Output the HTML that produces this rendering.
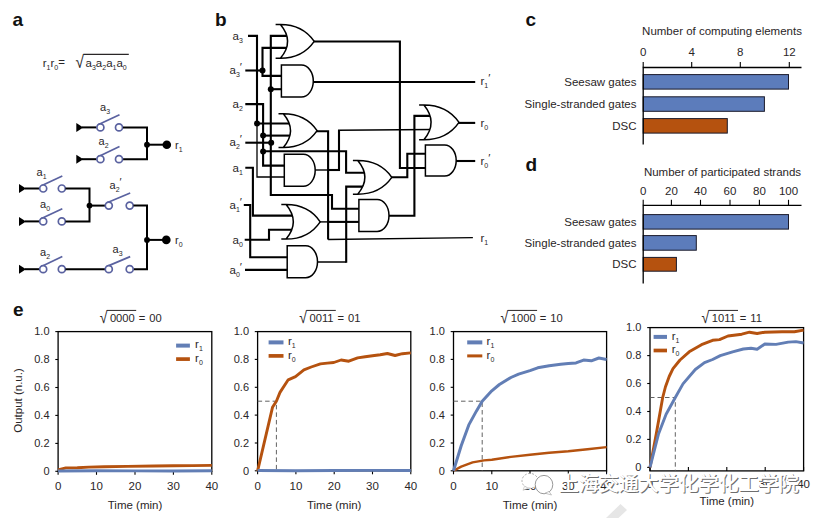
<!DOCTYPE html>
<html><head><meta charset="utf-8"><title>Figure</title>
<style>
html,body{margin:0;padding:0;background:#fff;}
body{width:826px;height:518px;overflow:hidden;}
svg{display:block;opacity:0.999;font-family:"Liberation Sans","Noto Sans CJK SC",sans-serif;}
</style></head><body>
<svg width="826" height="518" viewBox="0 0 826 518">
<rect width="826" height="518" fill="#fff"/>
<text x="12.5" y="26" font-size="19" font-weight="bold" fill="#111">a</text>
<text x="215" y="25.5" font-size="19" font-weight="bold" fill="#111">b</text>
<text x="525.5" y="26" font-size="19" font-weight="bold" fill="#111">c</text>
<text x="525.5" y="170.5" font-size="19" font-weight="bold" fill="#111">d</text>
<text x="13" y="315.5" font-size="19" font-weight="bold" fill="#111">e</text>
<g id="pa">
<text x="42.7" y="66.7" font-size="11.5" fill="#2a2627">r<tspan dy="3" font-size="7">1</tspan><tspan dy="-3" font-size="11.5">r</tspan><tspan dy="3" font-size="7">0</tspan><tspan dy="-4.0" font-size="11.5">=</tspan></text>
<text transform="translate(75.41,67.7) scale(0.88,1)" font-size="17.5" fill="#2a2627">√</text>
<line x1="83.35" y1="54.31" x2="128.8" y2="54.31" stroke="#2a2627" stroke-width="1.2"/>
<text x="85.5" y="66.7" font-size="11.5" fill="#2a2627">a<tspan dy="3" font-size="7">3</tspan><tspan dy="-3" font-size="11.5">a</tspan><tspan dy="3" font-size="7">2</tspan><tspan dy="-3" font-size="11.5">a</tspan><tspan dy="3" font-size="7">1</tspan><tspan dy="-3" font-size="11.5">a</tspan><tspan dy="3" font-size="7">0</tspan></text>
<polygon points="76.3,122.9 83.3,127.4 76.3,131.9" fill="#000"/>
<path d="M82,127.4 H96.5" fill="none" stroke="#000" stroke-width="2.0" stroke-linejoin="miter"/>
<line x1="98.60000000000001" y1="124.60000000000001" x2="119.5" y2="114.80000000000001" stroke="#5a62a0" stroke-width="1.7"/>
<circle cx="100.4" cy="127.4" r="3.5" fill="#fff" stroke="#5a62a0" stroke-width="1.7"/>
<circle cx="119.0" cy="127.4" r="3.5" fill="#fff" stroke="#5a62a0" stroke-width="1.7"/>
<text x="100" y="111" font-size="11" fill="#2a2627">a<tspan dy="3" font-size="7">3</tspan></text>
<path d="M123,127.4 H147 V159.2 H123" fill="none" stroke="#000" stroke-width="2.0" stroke-linejoin="miter"/>
<polygon points="76.3,154.7 83.3,159.2 76.3,163.7" fill="#000"/>
<path d="M82,159.2 H96.5" fill="none" stroke="#000" stroke-width="2.0" stroke-linejoin="miter"/>
<line x1="98.60000000000001" y1="156.39999999999998" x2="119.5" y2="146.6" stroke="#5a62a0" stroke-width="1.7"/>
<circle cx="100.4" cy="159.2" r="3.5" fill="#fff" stroke="#5a62a0" stroke-width="1.7"/>
<circle cx="119.0" cy="159.2" r="3.5" fill="#fff" stroke="#5a62a0" stroke-width="1.7"/>
<text x="98.5" y="144.5" font-size="11" fill="#2a2627">a<tspan dy="3" font-size="7">2</tspan></text>
<path d="M147,144.7 H166" fill="none" stroke="#000" stroke-width="2.0" stroke-linejoin="miter"/>
<circle cx="147" cy="144.7" r="2.9" fill="#000"/>
<circle cx="166.8" cy="144.7" r="4.3" fill="#000"/>
<text x="175" y="149" font-size="11" fill="#2a2627">r<tspan dy="3" font-size="7">1</tspan></text>
<polygon points="19,184.0 26,188.5 19,193.0" fill="#000"/>
<path d="M25,188.5 H39.5" fill="none" stroke="#000" stroke-width="2.0" stroke-linejoin="miter"/>
<line x1="41.400000000000006" y1="185.7" x2="62.300000000000004" y2="175.9" stroke="#5a62a0" stroke-width="1.7"/>
<circle cx="43.2" cy="188.5" r="3.5" fill="#fff" stroke="#5a62a0" stroke-width="1.7"/>
<circle cx="61.800000000000004" cy="188.5" r="3.5" fill="#fff" stroke="#5a62a0" stroke-width="1.7"/>
<text x="36.5" y="176" font-size="11" fill="#2a2627">a<tspan dy="3" font-size="7">1</tspan></text>
<polygon points="19,216.9 26,221.4 19,225.9" fill="#000"/>
<path d="M25,221.4 H39.5" fill="none" stroke="#000" stroke-width="2.0" stroke-linejoin="miter"/>
<line x1="41.400000000000006" y1="218.6" x2="62.300000000000004" y2="208.8" stroke="#5a62a0" stroke-width="1.7"/>
<circle cx="43.2" cy="221.4" r="3.5" fill="#fff" stroke="#5a62a0" stroke-width="1.7"/>
<circle cx="61.800000000000004" cy="221.4" r="3.5" fill="#fff" stroke="#5a62a0" stroke-width="1.7"/>
<text x="40" y="208" font-size="11" fill="#2a2627">a<tspan dy="3" font-size="7">0</tspan></text>
<path d="M65.5,188.5 H89.5 V221.4 H65.5" fill="none" stroke="#000" stroke-width="2.0" stroke-linejoin="miter"/>
<circle cx="89.5" cy="205.6" r="2.9" fill="#000"/>
<path d="M89.5,205.6 H105" fill="none" stroke="#000" stroke-width="2.0" stroke-linejoin="miter"/>
<line x1="107.0" y1="202.79999999999998" x2="130.2" y2="193.0" stroke="#5a62a0" stroke-width="1.7"/>
<circle cx="108.8" cy="205.6" r="3.5" fill="#fff" stroke="#5a62a0" stroke-width="1.7"/>
<circle cx="129.7" cy="205.6" r="3.5" fill="#fff" stroke="#5a62a0" stroke-width="1.7"/>
<text x="109.5" y="189" font-size="11" fill="#2a2627">a<tspan dy="3" font-size="7">2</tspan><tspan dy="-6" font-size="11">′</tspan></text>
<path d="M133.5,205.6 H147 V269.2 H133.5" fill="none" stroke="#000" stroke-width="2.0" stroke-linejoin="miter"/>
<polygon points="19,264.7 26,269.2 19,273.7" fill="#000"/>
<path d="M25,269.2 H39.5" fill="none" stroke="#000" stroke-width="2.0" stroke-linejoin="miter"/>
<line x1="41.400000000000006" y1="266.4" x2="62.300000000000004" y2="256.59999999999997" stroke="#5a62a0" stroke-width="1.7"/>
<circle cx="43.2" cy="269.2" r="3.5" fill="#fff" stroke="#5a62a0" stroke-width="1.7"/>
<circle cx="61.800000000000004" cy="269.2" r="3.5" fill="#fff" stroke="#5a62a0" stroke-width="1.7"/>
<text x="40" y="255.5" font-size="11" fill="#2a2627">a<tspan dy="3" font-size="7">2</tspan></text>
<path d="M65.5,269.2 H105" fill="none" stroke="#000" stroke-width="2.0" stroke-linejoin="miter"/>
<line x1="107.0" y1="266.4" x2="130.2" y2="256.59999999999997" stroke="#5a62a0" stroke-width="1.7"/>
<circle cx="108.8" cy="269.2" r="3.5" fill="#fff" stroke="#5a62a0" stroke-width="1.7"/>
<circle cx="129.7" cy="269.2" r="3.5" fill="#fff" stroke="#5a62a0" stroke-width="1.7"/>
<text x="112.5" y="253" font-size="11" fill="#2a2627">a<tspan dy="3" font-size="7">3</tspan></text>
<circle cx="147" cy="239.9" r="2.9" fill="#000"/>
<path d="M147,239.9 H166" fill="none" stroke="#000" stroke-width="2.0" stroke-linejoin="miter"/>
<circle cx="166.3" cy="239.9" r="4.3" fill="#000"/>
<text x="175" y="244" font-size="11" fill="#2a2627">r<tspan dy="3" font-size="7">0</tspan></text>
</g>
<g id="pb">
<path d="M248,35.9 H257 V123.5 H292" fill="none" stroke="#000" stroke-width="2.1" stroke-linejoin="miter"/>
<path d="M257,123.5 V177 H286" fill="none" stroke="#000" stroke-width="1.3" stroke-linejoin="miter"/>
<path d="M290,35.9 H270.8 V195 H332 V208.7 H360" fill="none" stroke="#000" stroke-width="2.1" stroke-linejoin="miter"/>
<path d="M270.8,89.2 H283" fill="none" stroke="#000" stroke-width="2.1" stroke-linejoin="miter"/>
<path d="M245.3,70.5 H262.5" fill="none" stroke="#000" stroke-width="2.1" stroke-linejoin="miter"/>
<path d="M290,47.9 H262.5 V75.9 H283" fill="none" stroke="#000" stroke-width="2.1" stroke-linejoin="miter"/>
<path d="M245.3,104.1 H263.1 V165.6 H286" fill="none" stroke="#000" stroke-width="2.1" stroke-linejoin="miter"/>
<path d="M263.1,135.6 H292" fill="none" stroke="#000" stroke-width="2.1" stroke-linejoin="miter"/>
<path d="M263.1,151.3 H346.1 V172.7 H366" fill="none" stroke="#000" stroke-width="2.1" stroke-linejoin="miter"/>
<path d="M245.3,142.7 H271.4" fill="none" stroke="#000" stroke-width="2.1" stroke-linejoin="miter"/>
<path d="M245.3,167.8 H252.9 V215.6 H295" fill="none" stroke="#000" stroke-width="2.1" stroke-linejoin="miter"/>
<path d="M243.8,205 H250.2 V257.2 H289" fill="none" stroke="#000" stroke-width="2.1" stroke-linejoin="miter"/>
<path d="M244.7,239.7 H269 V229.8 H293" fill="none" stroke="#000" stroke-width="2.1" stroke-linejoin="miter"/>
<path d="M245,269.9 H289" fill="none" stroke="#000" stroke-width="2.1" stroke-linejoin="miter"/>
<path d="M313,41.5 H399.9 V168 H427" fill="none" stroke="#000" stroke-width="2.1" stroke-linejoin="miter"/>
<path d="M312,82 H475.2" fill="none" stroke="#000" stroke-width="2.1" stroke-linejoin="miter"/>
<path d="M316,131.2 H328.1 V239.5" fill="none" stroke="#000" stroke-width="2.1" stroke-linejoin="miter"/>
<path d="M328.1,239.5 L472.9,237.6" fill="none" stroke="#000" stroke-width="1.4" stroke-linejoin="miter"/>
<path d="M314,170 H329" fill="none" stroke="#000" stroke-width="1.4" stroke-linejoin="miter"/>
<path d="M328.1,170 H340" fill="none" stroke="#000" stroke-width="2.1" stroke-linejoin="miter"/>
<path d="M339,171 V130.3" fill="none" stroke="#000" stroke-width="2.1" stroke-linejoin="miter"/>
<path d="M338,130.3 L432,129.5" fill="none" stroke="#000" stroke-width="1.6" stroke-linejoin="miter"/>
<path d="M319,221.9 H329" fill="none" stroke="#000" stroke-width="1.4" stroke-linejoin="miter"/>
<path d="M328.1,221.9 H360" fill="none" stroke="#000" stroke-width="2.1" stroke-linejoin="miter"/>
<path d="M316,262 H346.2" fill="none" stroke="#000" stroke-width="1.5" stroke-linejoin="miter"/>
<path d="M346.2,262.7 V186.6 H366" fill="none" stroke="#000" stroke-width="2.1" stroke-linejoin="miter"/>
<path d="M390,177.3 H407.3 V153.7 H427" fill="none" stroke="#000" stroke-width="2.1" stroke-linejoin="miter"/>
<path d="M388,215.7 H414.4 V115.9 H434" fill="none" stroke="#000" stroke-width="2.1" stroke-linejoin="miter"/>
<path d="M458,122.9 H475.2" fill="none" stroke="#000" stroke-width="2.1" stroke-linejoin="miter"/>
<path d="M455,161 H475.2" fill="none" stroke="#000" stroke-width="2.1" stroke-linejoin="miter"/>
<circle cx="262.5" cy="70.5" r="3.0" fill="#000"/>
<circle cx="270.8" cy="89.2" r="3.0" fill="#000"/>
<circle cx="257" cy="123.5" r="3.0" fill="#000"/>
<circle cx="263.1" cy="135.6" r="3.0" fill="#000"/>
<circle cx="271.2" cy="142.7" r="3.0" fill="#000"/>
<circle cx="263.1" cy="151.5" r="3.0" fill="#000"/>
<path d="M275.6,24.5 H280.40000000000003 C295.672,24.5 307.252,31.259999999999998 314.2,41.4 C307.252,51.54 295.672,58.3 280.40000000000003,58.3 H275.6 H280.40000000000003 Q294.8,41.4 280.40000000000003,24.5" fill="#fff" stroke="#000" stroke-width="1.5" stroke-linejoin="miter"/>
<path d="M281.4,65 H301.423 A11.876999999999997,16.049999999999997 0 0 1 301.423,97.1 H281.4 Z" fill="#fff" stroke="#000" stroke-width="1.5"/>
<path d="M278.5,113.8 H283.3 C298.572,113.8 310.15200000000004,120.56 317.1,130.7 C310.15200000000004,140.84 298.572,147.6 283.3,147.6 H278.5 H283.3 Q297.7,130.7 283.3,113.8" fill="#fff" stroke="#000" stroke-width="1.5" stroke-linejoin="miter"/>
<path d="M284.3,154.2 H303.323 A11.877000000000008,16.05000000000001 0 0 1 303.323,186.3 H284.3 Z" fill="#fff" stroke="#000" stroke-width="1.5"/>
<path d="M281.3,204.5 H286.1 C301.528,204.5 313.198,211.42 320.2,221.8 C313.198,232.18 301.528,239.1 286.1,239.1 H281.3 H286.1 Q300.5,221.8 286.1,204.5" fill="#fff" stroke="#000" stroke-width="1.5" stroke-linejoin="miter"/>
<path d="M287.2,245.8 H305.697 A11.802999999999992,15.949999999999989 0 0 1 305.697,277.7 H287.2 Z" fill="#fff" stroke="#000" stroke-width="1.5"/>
<path d="M352.9,160.6 H357.7 C373.128,160.6 384.798,167.32 391.8,177.39999999999998 C384.798,187.48 373.128,194.2 357.7,194.2 H352.9 H357.7 Q372.09999999999997,177.39999999999998 357.7,160.6" fill="#fff" stroke="#000" stroke-width="1.5" stroke-linejoin="miter"/>
<path d="M358.9,199.4 H377.16 A11.84,16.0 0 0 1 377.16,231.4 H358.9 Z" fill="#fff" stroke="#000" stroke-width="1.5"/>
<path d="M419.1,105 H423.90000000000003 C439.848,105 451.818,111.96000000000001 459,122.4 C451.818,132.84 439.848,139.8 423.90000000000003,139.8 H419.1 H423.90000000000003 Q438.3,122.4 423.90000000000003,105" fill="#fff" stroke="#000" stroke-width="1.5" stroke-linejoin="miter"/>
<path d="M425.4,144.9 H444.656 A11.543999999999995,15.599999999999994 0 0 1 444.656,176.1 H425.4 Z" fill="#fff" stroke="#000" stroke-width="1.5"/>
<text x="232.5" y="40" font-size="11.5" fill="#2a2627">a<tspan dy="3" font-size="7">3</tspan></text>
<text x="229.5" y="73.5" font-size="11.5" fill="#2a2627">a<tspan dy="3" font-size="7">3</tspan><tspan dy="-6" font-size="11.5">′</tspan></text>
<text x="232.5" y="108" font-size="11.5" fill="#2a2627">a<tspan dy="3" font-size="7">2</tspan></text>
<text x="229.5" y="146" font-size="11.5" fill="#2a2627">a<tspan dy="3" font-size="7">2</tspan><tspan dy="-6" font-size="11.5">′</tspan></text>
<text x="232.5" y="172" font-size="11.5" fill="#2a2627">a<tspan dy="3" font-size="7">1</tspan></text>
<text x="229.5" y="208.5" font-size="11.5" fill="#2a2627">a<tspan dy="3" font-size="7">1</tspan><tspan dy="-6" font-size="11.5">′</tspan></text>
<text x="232.5" y="243.5" font-size="11.5" fill="#2a2627">a<tspan dy="3" font-size="7">0</tspan></text>
<text x="229.5" y="273.5" font-size="11.5" fill="#2a2627">a<tspan dy="3" font-size="7">0</tspan><tspan dy="-6" font-size="11.5">′</tspan></text>
<text x="480.5" y="85" font-size="11.5" fill="#2a2627">r<tspan dy="3" font-size="7">1</tspan><tspan dy="-6" font-size="11.5">′</tspan></text>
<text x="480.5" y="126.5" font-size="11.5" fill="#2a2627">r<tspan dy="3" font-size="7">0</tspan></text>
<text x="480.5" y="164.5" font-size="11.5" fill="#2a2627">r<tspan dy="3" font-size="7">0</tspan><tspan dy="-6" font-size="11.5">′</tspan></text>
<text x="480.5" y="242" font-size="11.5" fill="#2a2627">r<tspan dy="3" font-size="7">1</tspan></text>
</g>
<g id="pc">
<text x="722" y="35" font-size="11.5" fill="#2a2627" text-anchor="middle">Number of computing elements</text>
<text x="643.2" y="55.5" font-size="11.5" fill="#2a2627" text-anchor="middle">0</text>
<line x1="643.2" y1="62.0" x2="643.2" y2="67.5" stroke="#000" stroke-width="1.1"/>
<text x="691.7" y="55.5" font-size="11.5" fill="#2a2627" text-anchor="middle">4</text>
<line x1="691.7" y1="62.0" x2="691.7" y2="67.5" stroke="#000" stroke-width="1.1"/>
<text x="740.3" y="55.5" font-size="11.5" fill="#2a2627" text-anchor="middle">8</text>
<line x1="740.3" y1="62.0" x2="740.3" y2="67.5" stroke="#000" stroke-width="1.1"/>
<text x="789.3" y="55.5" font-size="11.5" fill="#2a2627" text-anchor="middle">12</text>
<line x1="789.3" y1="62.0" x2="789.3" y2="67.5" stroke="#000" stroke-width="1.1"/>
<rect x="643.2" y="74.6" width="145.29999999999995" height="14.5" fill="#5c7cbb" stroke="#1a1a2a" stroke-width="1"/>
<text x="636.5" y="85.85" font-size="11.5" fill="#2a2627" text-anchor="end">Seesaw gates</text>
<rect x="643.2" y="96.8" width="121.19999999999993" height="14.5" fill="#5c7cbb" stroke="#1a1a2a" stroke-width="1"/>
<text x="636.5" y="108.05" font-size="11.5" fill="#2a2627" text-anchor="end">Single-stranded gates</text>
<rect x="643.2" y="118.6" width="84.09999999999991" height="14.5" fill="#b5520f" stroke="#1a1a2a" stroke-width="1"/>
<text x="636.5" y="129.85" font-size="11.5" fill="#2a2627" text-anchor="end">DSC</text>
<path d="M643.2,144.6 V67.5 H801.5" fill="none" stroke="#000" stroke-width="1.3"/>
</g><g id="pd">
<text x="722.5" y="176" font-size="11.5" fill="#2a2627" text-anchor="middle">Number of participated strands</text>
<text x="643.2" y="195" font-size="11.5" fill="#2a2627" text-anchor="middle">0</text>
<line x1="643.2" y1="199.8" x2="643.2" y2="205.3" stroke="#000" stroke-width="1.1"/>
<text x="671.4" y="195" font-size="11.5" fill="#2a2627" text-anchor="middle">20</text>
<line x1="671.4" y1="199.8" x2="671.4" y2="205.3" stroke="#000" stroke-width="1.1"/>
<text x="700.5" y="195" font-size="11.5" fill="#2a2627" text-anchor="middle">40</text>
<line x1="700.5" y1="199.8" x2="700.5" y2="205.3" stroke="#000" stroke-width="1.1"/>
<text x="730" y="195" font-size="11.5" fill="#2a2627" text-anchor="middle">60</text>
<line x1="730" y1="199.8" x2="730" y2="205.3" stroke="#000" stroke-width="1.1"/>
<text x="759.4" y="195" font-size="11.5" fill="#2a2627" text-anchor="middle">80</text>
<line x1="759.4" y1="199.8" x2="759.4" y2="205.3" stroke="#000" stroke-width="1.1"/>
<text x="788.5" y="195" font-size="11.5" fill="#2a2627" text-anchor="middle">100</text>
<line x1="788.5" y1="199.8" x2="788.5" y2="205.3" stroke="#000" stroke-width="1.1"/>
<rect x="643.2" y="214.6" width="145.29999999999995" height="14.5" fill="#5c7cbb" stroke="#1a1a2a" stroke-width="1"/>
<text x="636.5" y="225.85" font-size="11.5" fill="#2a2627" text-anchor="end">Seesaw gates</text>
<rect x="643.2" y="235.6" width="53.09999999999991" height="14.599999999999994" fill="#5c7cbb" stroke="#1a1a2a" stroke-width="1"/>
<text x="636.5" y="246.89999999999998" font-size="11.5" fill="#2a2627" text-anchor="end">Single-stranded gates</text>
<rect x="643.2" y="257.4" width="33.19999999999993" height="13.800000000000011" fill="#b5520f" stroke="#1a1a2a" stroke-width="1"/>
<text x="636.5" y="268.29999999999995" font-size="11.5" fill="#2a2627" text-anchor="end">DSC</text>
<path d="M643.2,283.5 V205.3 H801.5" fill="none" stroke="#000" stroke-width="1.3"/>
</g>
<g id="pe">
<text transform="translate(22,400.5) rotate(-90)" font-size="11.5" fill="#2a2627" text-anchor="middle">Output (n.u.)</text>
<rect x="58.1" y="331.6" width="153.70000000000002" height="139.7" fill="none" stroke="#000" stroke-width="1.3"/>
<line x1="55.300000000000004" y1="471.3" x2="58.1" y2="471.3" stroke="#000" stroke-width="1.1"/>
<text x="49.5" y="475.0" font-size="11" fill="#2a2627" text-anchor="end">0</text>
<line x1="55.300000000000004" y1="443.4" x2="58.1" y2="443.4" stroke="#000" stroke-width="1.1"/>
<text x="49.5" y="447.1" font-size="11" fill="#2a2627" text-anchor="end">0.2</text>
<line x1="55.300000000000004" y1="415.4" x2="58.1" y2="415.4" stroke="#000" stroke-width="1.1"/>
<text x="49.5" y="419.1" font-size="11" fill="#2a2627" text-anchor="end">0.4</text>
<line x1="55.300000000000004" y1="387.5" x2="58.1" y2="387.5" stroke="#000" stroke-width="1.1"/>
<text x="49.5" y="391.2" font-size="11" fill="#2a2627" text-anchor="end">0.6</text>
<line x1="55.300000000000004" y1="359.5" x2="58.1" y2="359.5" stroke="#000" stroke-width="1.1"/>
<text x="49.5" y="363.2" font-size="11" fill="#2a2627" text-anchor="end">0.8</text>
<line x1="55.300000000000004" y1="331.6" x2="58.1" y2="331.6" stroke="#000" stroke-width="1.1"/>
<text x="49.5" y="335.3" font-size="11" fill="#2a2627" text-anchor="end">1.0</text>
<line x1="58.1" y1="471.3" x2="58.1" y2="474.8" stroke="#000" stroke-width="1.1"/>
<text x="58.1" y="489.5" font-size="11.5" fill="#2a2627" text-anchor="middle">0</text>
<line x1="96.5" y1="471.3" x2="96.5" y2="474.8" stroke="#000" stroke-width="1.1"/>
<text x="96.5" y="489.5" font-size="11.5" fill="#2a2627" text-anchor="middle">10</text>
<line x1="135.0" y1="471.3" x2="135.0" y2="474.8" stroke="#000" stroke-width="1.1"/>
<text x="135.0" y="489.5" font-size="11.5" fill="#2a2627" text-anchor="middle">20</text>
<line x1="173.4" y1="471.3" x2="173.4" y2="474.8" stroke="#000" stroke-width="1.1"/>
<text x="173.4" y="489.5" font-size="11.5" fill="#2a2627" text-anchor="middle">30</text>
<line x1="211.8" y1="471.3" x2="211.8" y2="474.8" stroke="#000" stroke-width="1.1"/>
<text x="211.8" y="489.5" font-size="11.5" fill="#2a2627" text-anchor="middle">40</text>
<text x="135.0" y="508.5" font-size="11.5" fill="#2a2627" text-anchor="middle">Time (min)</text>
<path d="M58.1,469.9 L61.9,468.8 L65.8,467.9 L77.3,467.7 L88.8,467.1 L104.2,466.8 L127.3,466.4 L154.2,466.0 L173.4,465.7 L192.6,465.6 L211.8,465.4" fill="none" stroke="#b5520f" stroke-width="2.9" stroke-linejoin="round" stroke-linecap="butt"/>
<path d="M58.1,471.0 L96.5,470.7 L135.0,470.9 L173.4,471.0 L211.8,470.7" fill="none" stroke="#627eb5" stroke-width="2.9" stroke-linejoin="round" stroke-linecap="butt"/>
<text transform="translate(99.65,323.09999999999997) scale(0.85,1)" font-size="16.6" fill="#2a2627">√</text>
<line x1="106.88" y1="310.42" x2="136.2" y2="310.42" stroke="#2a2627" stroke-width="1.0"/>
<text x="109.9" y="321.9" font-size="11.2" word-spacing="0.9" fill="#2a2627">0000 = 00</text>
<line x1="176.1" y1="345.6" x2="189.9" y2="345.6" stroke="#627eb5" stroke-width="4"/>
<line x1="176.1" y1="359.1" x2="189.9" y2="359.1" stroke="#b5520f" stroke-width="3.7"/>
<text x="195.1" y="348.3" font-size="11.5" fill="#2a2627">r<tspan dy="3" font-size="7">1</tspan></text>
<text x="195.1" y="361.8" font-size="11.5" fill="#2a2627">r<tspan dy="3" font-size="7">0</tspan></text>
<rect x="257.6" y="331.6" width="153.2" height="139.2" fill="none" stroke="#000" stroke-width="1.3"/>
<line x1="254.8" y1="470.8" x2="257.6" y2="470.8" stroke="#000" stroke-width="1.1"/>
<text x="249.00000000000003" y="474.5" font-size="11" fill="#2a2627" text-anchor="end">0</text>
<line x1="254.8" y1="443.0" x2="257.6" y2="443.0" stroke="#000" stroke-width="1.1"/>
<text x="249.00000000000003" y="446.7" font-size="11" fill="#2a2627" text-anchor="end">0.2</text>
<line x1="254.8" y1="415.1" x2="257.6" y2="415.1" stroke="#000" stroke-width="1.1"/>
<text x="249.00000000000003" y="418.8" font-size="11" fill="#2a2627" text-anchor="end">0.4</text>
<line x1="254.8" y1="387.3" x2="257.6" y2="387.3" stroke="#000" stroke-width="1.1"/>
<text x="249.00000000000003" y="391.0" font-size="11" fill="#2a2627" text-anchor="end">0.6</text>
<line x1="254.8" y1="359.4" x2="257.6" y2="359.4" stroke="#000" stroke-width="1.1"/>
<text x="249.00000000000003" y="363.1" font-size="11" fill="#2a2627" text-anchor="end">0.8</text>
<line x1="254.8" y1="331.6" x2="257.6" y2="331.6" stroke="#000" stroke-width="1.1"/>
<text x="249.00000000000003" y="335.3" font-size="11" fill="#2a2627" text-anchor="end">1.0</text>
<line x1="257.6" y1="470.8" x2="257.6" y2="474.3" stroke="#000" stroke-width="1.1"/>
<text x="257.6" y="489.5" font-size="11.5" fill="#2a2627" text-anchor="middle">0</text>
<line x1="295.9" y1="470.8" x2="295.9" y2="474.3" stroke="#000" stroke-width="1.1"/>
<text x="295.9" y="489.5" font-size="11.5" fill="#2a2627" text-anchor="middle">10</text>
<line x1="334.2" y1="470.8" x2="334.2" y2="474.3" stroke="#000" stroke-width="1.1"/>
<text x="334.2" y="489.5" font-size="11.5" fill="#2a2627" text-anchor="middle">20</text>
<line x1="372.5" y1="470.8" x2="372.5" y2="474.3" stroke="#000" stroke-width="1.1"/>
<text x="372.5" y="489.5" font-size="11.5" fill="#2a2627" text-anchor="middle">30</text>
<line x1="410.8" y1="470.8" x2="410.8" y2="474.3" stroke="#000" stroke-width="1.1"/>
<text x="410.8" y="489.5" font-size="11.5" fill="#2a2627" text-anchor="middle">40</text>
<text x="334.2" y="508.5" font-size="11.5" fill="#2a2627" text-anchor="middle">Time (min)</text>
<path d="M257.6,401.2 H276.4 V470.8" fill="none" stroke="#5a5a5a" stroke-width="0.95" stroke-dasharray="4.5,3"/>
<path d="M257.6,470.8 L272.5,407.3 L276.4,401.2 L280.0,392.4 L288.2,379.8 L295.5,376.6 L303.9,369.9 L311.2,367.0 L320.4,363.9 L327.3,363.1 L333.8,362.5 L341.1,360.0 L348.8,361.2 L357.6,357.9 L365.2,356.8 L372.5,355.8 L380.2,354.7 L387.4,353.5 L395.1,355.5 L402.4,353.7 L410.8,352.9" fill="none" stroke="#b5520f" stroke-width="2.9" stroke-linejoin="round" stroke-linecap="butt"/>
<path d="M257.6,470.5 L295.9,470.7 L334.2,470.5 L372.5,470.4 L410.8,470.5" fill="none" stroke="#627eb5" stroke-width="2.9" stroke-linejoin="round" stroke-linecap="butt"/>
<text transform="translate(299.25,323.09999999999997) scale(0.85,1)" font-size="16.6" fill="#2a2627">√</text>
<line x1="306.48" y1="310.42" x2="335.8" y2="310.42" stroke="#2a2627" stroke-width="1.0"/>
<text x="309.5" y="321.9" font-size="11.2" word-spacing="0.9" fill="#2a2627">0011 = 01</text>
<line x1="268.6" y1="342.4" x2="283.5" y2="342.4" stroke="#627eb5" stroke-width="4"/>
<line x1="268.6" y1="355.9" x2="283.5" y2="355.9" stroke="#b5520f" stroke-width="3.7"/>
<text x="288" y="345.09999999999997" font-size="11.5" fill="#2a2627">r<tspan dy="3" font-size="7">1</tspan></text>
<text x="288" y="358.59999999999997" font-size="11.5" fill="#2a2627">r<tspan dy="3" font-size="7">0</tspan></text>
<rect x="453.5" y="331.6" width="153.10000000000002" height="139.2" fill="none" stroke="#000" stroke-width="1.3"/>
<line x1="450.7" y1="470.8" x2="453.5" y2="470.8" stroke="#000" stroke-width="1.1"/>
<text x="444.9" y="474.5" font-size="11" fill="#2a2627" text-anchor="end">0</text>
<line x1="450.7" y1="443.0" x2="453.5" y2="443.0" stroke="#000" stroke-width="1.1"/>
<text x="444.9" y="446.7" font-size="11" fill="#2a2627" text-anchor="end">0.2</text>
<line x1="450.7" y1="415.1" x2="453.5" y2="415.1" stroke="#000" stroke-width="1.1"/>
<text x="444.9" y="418.8" font-size="11" fill="#2a2627" text-anchor="end">0.4</text>
<line x1="450.7" y1="387.3" x2="453.5" y2="387.3" stroke="#000" stroke-width="1.1"/>
<text x="444.9" y="391.0" font-size="11" fill="#2a2627" text-anchor="end">0.6</text>
<line x1="450.7" y1="359.4" x2="453.5" y2="359.4" stroke="#000" stroke-width="1.1"/>
<text x="444.9" y="363.1" font-size="11" fill="#2a2627" text-anchor="end">0.8</text>
<line x1="450.7" y1="331.6" x2="453.5" y2="331.6" stroke="#000" stroke-width="1.1"/>
<text x="444.9" y="335.3" font-size="11" fill="#2a2627" text-anchor="end">1.0</text>
<line x1="453.5" y1="470.8" x2="453.5" y2="474.3" stroke="#000" stroke-width="1.1"/>
<text x="453.5" y="489.5" font-size="11.5" fill="#2a2627" text-anchor="middle">0</text>
<line x1="491.8" y1="470.8" x2="491.8" y2="474.3" stroke="#000" stroke-width="1.1"/>
<text x="491.8" y="489.5" font-size="11.5" fill="#2a2627" text-anchor="middle">10</text>
<line x1="530.0" y1="470.8" x2="530.0" y2="474.3" stroke="#000" stroke-width="1.1"/>
<text x="530.0" y="489.5" font-size="11.5" fill="#2a2627" text-anchor="middle">20</text>
<line x1="568.3" y1="470.8" x2="568.3" y2="474.3" stroke="#000" stroke-width="1.1"/>
<text x="568.3" y="489.5" font-size="11.5" fill="#2a2627" text-anchor="middle">30</text>
<line x1="606.6" y1="470.8" x2="606.6" y2="474.3" stroke="#000" stroke-width="1.1"/>
<text x="606.6" y="489.5" font-size="11.5" fill="#2a2627" text-anchor="middle">40</text>
<text x="530.0" y="508.5" font-size="11.5" fill="#2a2627" text-anchor="middle">Time (min)</text>
<path d="M453.5,401.2 H482.2 V470.8" fill="none" stroke="#5a5a5a" stroke-width="0.95" stroke-dasharray="4.5,3"/>
<path d="M453.5,470.8 L461.2,466.6 L472.6,462.4 L484.1,460.4 L491.8,459.7 L510.9,456.9 L530.0,454.8 L549.2,452.7 L568.3,451.3 L587.5,449.2 L606.6,447.1" fill="none" stroke="#b5520f" stroke-width="2.4" stroke-linejoin="round" stroke-linecap="butt"/>
<path d="M453.5,470.8 L461.2,445.7 L468.8,424.9 L476.5,410.9 L482.2,401.2 L491.8,390.8 L499.4,384.5 L510.9,377.5 L518.6,374.1 L530.0,370.6 L537.7,367.8 L549.2,365.7 L560.7,364.3 L568.3,363.6 L576.0,362.9 L583.6,360.1 L591.3,360.8 L598.9,358.0 L606.6,359.4" fill="none" stroke="#627eb5" stroke-width="3.0" stroke-linejoin="round" stroke-linecap="butt"/>
<text transform="translate(500.55,323.09999999999997) scale(0.85,1)" font-size="16.6" fill="#2a2627">√</text>
<line x1="507.78" y1="310.42" x2="537.1" y2="310.42" stroke="#2a2627" stroke-width="1.0"/>
<text x="510.79999999999995" y="321.9" font-size="11.2" word-spacing="0.9" fill="#2a2627">1000 = 10</text>
<line x1="467.2" y1="342.4" x2="482.3" y2="342.4" stroke="#627eb5" stroke-width="4"/>
<line x1="467.2" y1="355.9" x2="482.3" y2="355.9" stroke="#b5520f" stroke-width="3.0"/>
<text x="486.6" y="345.09999999999997" font-size="11.5" fill="#2a2627">r<tspan dy="3" font-size="7">1</tspan></text>
<text x="486.6" y="358.59999999999997" font-size="11.5" fill="#2a2627">r<tspan dy="3" font-size="7">0</tspan></text>
<rect x="650" y="327.6" width="153.60000000000002" height="143.29999999999995" fill="none" stroke="#000" stroke-width="1.3"/>
<line x1="647.2" y1="467.4" x2="650" y2="467.4" stroke="#000" stroke-width="1.1"/>
<text x="641.4" y="471.1" font-size="11" fill="#2a2627" text-anchor="end">0</text>
<line x1="647.2" y1="439.4" x2="650" y2="439.4" stroke="#000" stroke-width="1.1"/>
<text x="641.4" y="443.1" font-size="11" fill="#2a2627" text-anchor="end">0.2</text>
<line x1="647.2" y1="411.5" x2="650" y2="411.5" stroke="#000" stroke-width="1.1"/>
<text x="641.4" y="415.2" font-size="11" fill="#2a2627" text-anchor="end">0.4</text>
<line x1="647.2" y1="383.5" x2="650" y2="383.5" stroke="#000" stroke-width="1.1"/>
<text x="641.4" y="387.2" font-size="11" fill="#2a2627" text-anchor="end">0.6</text>
<line x1="647.2" y1="355.6" x2="650" y2="355.6" stroke="#000" stroke-width="1.1"/>
<text x="641.4" y="359.3" font-size="11" fill="#2a2627" text-anchor="end">0.8</text>
<line x1="647.2" y1="327.6" x2="650" y2="327.6" stroke="#000" stroke-width="1.1"/>
<text x="641.4" y="331.3" font-size="11" fill="#2a2627" text-anchor="end">1.0</text>
<line x1="650.0" y1="466.9" x2="650.0" y2="470.9" stroke="#000" stroke-width="1.1"/>
<text x="650.0" y="487.5" font-size="11.5" fill="#2a2627" text-anchor="middle">0</text>
<line x1="688.4" y1="466.9" x2="688.4" y2="470.9" stroke="#000" stroke-width="1.1"/>
<line x1="726.8" y1="466.9" x2="726.8" y2="470.9" stroke="#000" stroke-width="1.1"/>
<line x1="765.2" y1="466.9" x2="765.2" y2="470.9" stroke="#000" stroke-width="1.1"/>
<text x="765.2" y="487.5" font-size="11.5" fill="#2a2627" text-anchor="middle">30</text>
<line x1="803.6" y1="466.9" x2="803.6" y2="470.9" stroke="#000" stroke-width="1.1"/>
<text x="803.6" y="487.5" font-size="11.5" fill="#2a2627" text-anchor="middle">40</text>
<text x="726.8" y="504.5" font-size="11.5" fill="#2a2627" text-anchor="middle">Time (min)</text>
<path d="M650,397.5 H675.3 V470.9" fill="none" stroke="#5a5a5a" stroke-width="0.95" stroke-dasharray="4.5,3"/>
<path d="M650.0,467.4 L656.5,432.4 L662.7,397.5 L665.4,387.0 L669.2,376.5 L673.0,368.7 L680.0,360.0 L689.2,351.8 L701.5,344.7 L712.6,340.3 L719.5,339.6 L728.0,336.0 L741.8,334.2 L749.5,332.2 L757.1,333.5 L764.8,332.2 L782.1,331.7 L794.4,331.7 L803.6,330.1" fill="none" stroke="#b5520f" stroke-width="2.9" stroke-linejoin="round" stroke-linecap="butt"/>
<path d="M650.0,467.4 L658.4,434.3 L666.1,414.3 L675.3,397.5 L683.0,383.9 L695.3,369.5 L704.5,362.6 L712.6,359.5 L720.3,355.6 L732.6,351.8 L743.3,349.0 L751.0,348.3 L757.1,349.3 L764.8,344.0 L776.0,344.4 L788.2,342.1 L795.9,341.6 L803.6,343.0" fill="none" stroke="#627eb5" stroke-width="2.9" stroke-linejoin="round" stroke-linecap="butt"/>
<text transform="translate(701.45,323.09999999999997) scale(0.85,1)" font-size="16.6" fill="#2a2627">√</text>
<line x1="708.68" y1="310.42" x2="738.0" y2="310.42" stroke="#2a2627" stroke-width="1.0"/>
<text x="711.6999999999999" y="321.9" font-size="11.2" word-spacing="0.9" fill="#2a2627">1011 = 11</text>
<line x1="653.6" y1="336.9" x2="667" y2="336.9" stroke="#627eb5" stroke-width="4"/>
<line x1="653.6" y1="350.5" x2="667" y2="350.5" stroke="#b5520f" stroke-width="3.7"/>
<text x="671.7" y="339.59999999999997" font-size="11.5" fill="#2a2627">r<tspan dy="3" font-size="7">1</tspan></text>
<text x="671.7" y="353.2" font-size="11.5" fill="#2a2627">r<tspan dy="3" font-size="7">0</tspan></text>
</g>
<g id="wm">
<polygon points="606,518 620.5,504 627,510 618.5,518" fill="#e6e6e6"/>
<g fill="#fff" stroke-width="0.9"><ellipse cx="530" cy="480.8" rx="8" ry="7.4" stroke="#a5a5a5" stroke-dasharray="2.2,1.6"/><path d="M524.5,486.3 l-1.5,4 l5.5,-2.2z" stroke="#b5b5b5" stroke-width="0.6"/><ellipse cx="544" cy="484.6" rx="8.8" ry="9.2" stroke="#8c8c8c"/><path d="M549,491.5 l2.5,3.5 l-6.5,-1.8z" stroke="#a0a0a0" stroke-width="0.6"/></g>
<text x="558.7" y="490.8" font-size="20.3" fill="#6e6e6e" font-family="'Liberation Sans','Noto Sans CJK SC',sans-serif" font-weight="500" textLength="240" lengthAdjust="spacing" transform="translate(1,1)">上海交通大学化学化工学院</text>
<text x="558.7" y="490.8" font-size="20.3" fill="#fff" font-family="'Liberation Sans','Noto Sans CJK SC',sans-serif" font-weight="500" textLength="240" lengthAdjust="spacing">上海交通大学化学化工学院</text>
</g>
</svg>
</body></html>
